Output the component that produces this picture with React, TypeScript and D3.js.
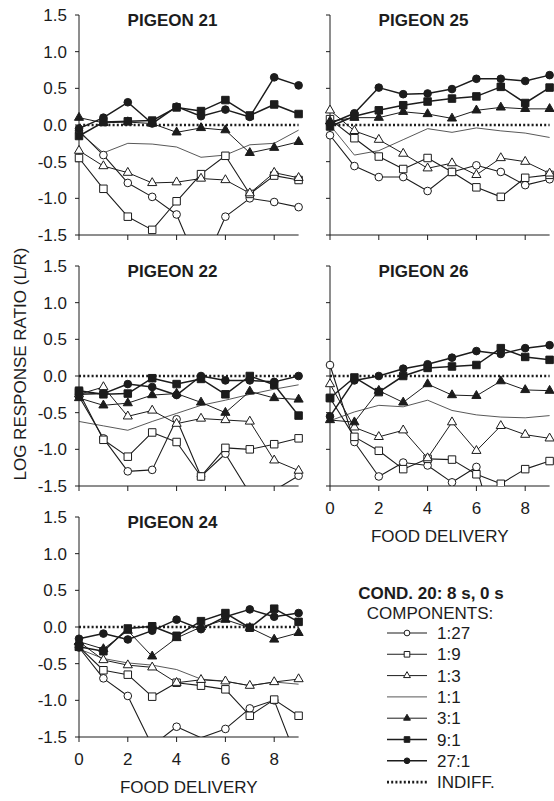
import React from "react";
import * as d3 from "d3";

// Food deliveries (x) and the seven component ratios (series)
const FOOD = [0, 1, 2, 3, 4, 5, 6, 7, 8, 9];
const COMPONENTS = ["1:27", "1:9", "1:3", "1:1", "3:1", "9:1", "27:1"];
const Y_TICKS = [-1.5, -1.0, -0.5, 0.0, 0.5, 1.0, 1.5];
const X_TICKS = [0, 2, 4, 6, 8];

// Pigeon 21 — log response ratio per food delivery
const P21_1_27 = [-0.08, -0.41, -0.79, -0.98, -1.22, -2.0, -1.25, -1.0, -1.05, -1.12];
const P21_1_9 = [-0.45, -0.87, -1.25, -1.43, -1.04, -0.67, -0.42, -0.94, -0.69, -0.75];
const P21_1_3 = [-0.35, -0.56, -0.65, -0.79, -0.78, -0.73, -0.75, -0.93, -0.65, -0.72];
const P21_1_1 = [-0.1, -0.38, -0.25, -0.26, -0.3, -0.44, -0.41, -0.27, -0.25, -0.07];
const P21_3_1 = [0.1, 0.03, 0.04, 0.02, -0.1, -0.04, -0.07, -0.38, -0.31, -0.23];
const P21_9_1 = [-0.15, 0.04, 0.05, 0.06, 0.24, 0.19, 0.34, 0.13, 0.28, 0.15];
const P21_27_1 = [-0.05, 0.1, 0.31, 0.02, 0.25, 0.12, 0.21, 0.11, 0.65, 0.54];

// Pigeon 25
const P25_1_27 = [-0.14, -0.56, -0.71, -0.71, -0.9, -0.64, -0.55, -0.64, -0.82, -0.74];
const P25_1_9 = [0.08, -0.18, -0.43, -0.6, -0.45, -0.64, -0.85, -0.98, -0.72, -0.68];
const P25_1_3 = [0.2, -0.08, -0.2, -0.39, -0.59, -0.52, -0.68, -0.45, -0.5, -0.66];
const P25_1_1 = [0.0, -0.41, -0.35, -0.2, -0.05, -0.1, -0.04, -0.08, -0.11, -0.17];
const P25_3_1 = [0.05, 0.1, 0.1, 0.18, 0.15, 0.09, 0.2, 0.24, 0.22, 0.22];
const P25_9_1 = [-0.02, 0.12, 0.2, 0.27, 0.32, 0.36, 0.39, 0.52, 0.3, 0.51];
const P25_27_1 = [0.02, 0.16, 0.51, 0.42, 0.43, 0.49, 0.63, 0.63, 0.6, 0.68];

// Pigeon 22
const P22_1_27 = [-0.28, -0.85, -1.3, -1.28, -0.59, -1.37, -1.06, -1.6, -1.56, -1.36];
const P22_1_9 = [-0.22, -0.87, -1.1, -0.77, -0.9, -1.37, -0.98, -1.0, -0.93, -0.85];
const P22_1_3 = [-0.25, -0.15, -0.55, -0.47, -0.65, -0.58, -0.6, -0.62, -1.15, -1.29];
const P22_1_1 = [-0.62, -0.68, -0.74, -0.62, -0.51, -0.4, -0.33, -0.25, -0.18, -0.12];
const P22_3_1 = [-0.3, -0.4, -0.37, -0.26, -0.24, -0.36, -0.5, -0.21, -0.3, -0.32];
const P22_9_1 = [-0.2, -0.25, -0.24, -0.03, -0.11, -0.04, -0.25, 0.0, -0.12, -0.54];
const P22_27_1 = [-0.25, -0.24, -0.11, -0.15, -0.26, 0.0, -0.06, -0.06, -0.08, 0.0];

// Pigeon 26
const P26_1_27 = [0.15, -0.9, -1.37, -1.18, -1.22, -1.45, -1.24, -2.4, -2.2, -2.0];
const P26_1_9 = [-0.3, -0.83, -1.02, -1.27, -1.13, -1.14, -1.34, -1.47, -1.27, -1.16];
const P26_1_3 = [-0.11, -0.7, -0.83, -0.74, -1.12, -0.63, -1.02, -0.68, -0.8, -0.85];
const P26_1_1 = [-0.61, -0.49, -0.4, -0.42, -0.33, -0.47, -0.53, -0.56, -0.57, -0.54];
const P26_3_1 = [-0.6, -0.63, -0.2, -0.36, -0.11, -0.26, -0.27, -0.07, -0.19, -0.2];
const P26_9_1 = [-0.3, -0.02, -0.22, 0.0, 0.11, 0.13, 0.15, 0.38, 0.26, 0.22];
const P26_27_1 = [-0.55, -0.06, 0.0, 0.1, 0.16, 0.25, 0.34, 0.3, 0.38, 0.42];

// Pigeon 24
const P24_1_27 = [-0.28, -0.7, -0.94, -1.62, -1.36, -1.51, -1.39, -1.11, -1.0, -1.86];
const P24_1_9 = [-0.27, -0.59, -0.65, -0.95, -0.76, -0.8, -0.85, -1.21, -0.99, -1.21];
const P24_1_3 = [-0.2, -0.45, -0.52, -0.55, -0.76, -0.72, -0.74, -0.8, -0.75, -0.71];
const P24_1_1 = [-0.3, -0.43, -0.49, -0.52, -0.58, -0.71, -0.74, -0.8, -0.75, -0.78];
const P24_3_1 = [-0.2, -0.3, -0.05, -0.4, -0.15, 0.0, 0.1, -0.01, -0.17, -0.08];
const P24_9_1 = [-0.27, -0.33, -0.02, 0.01, -0.12, 0.08, 0.19, -0.01, 0.25, 0.07];
const P24_27_1 = [-0.16, -0.09, -0.17, -0.05, 0.1, -0.03, 0.14, 0.24, 0.14, 0.19];

const W = 554;
const H = 801;
const PLOT_W = 219.6;
const PLOT_H = 220;
const FS = 17;
const FONT = "'Liberation Sans', Arial, Helvetica, sans-serif";
const INK = "#1c1c1c";

type Panel = {
  title: string;
  left: number;
  top: number;
  yLabels: boolean;
  xLabels: boolean;
  series: number[][];
};

const PANELS: Panel[] = [
  { title: "PIGEON 21", left: 79, top: 15, yLabels: true, xLabels: false,
    series: [P21_1_27, P21_1_9, P21_1_3, P21_1_1, P21_3_1, P21_9_1, P21_27_1] },
  { title: "PIGEON 25", left: 330, top: 15, yLabels: false, xLabels: false,
    series: [P25_1_27, P25_1_9, P25_1_3, P25_1_1, P25_3_1, P25_9_1, P25_27_1] },
  { title: "PIGEON 22", left: 79, top: 266, yLabels: true, xLabels: false,
    series: [P22_1_27, P22_1_9, P22_1_3, P22_1_1, P22_3_1, P22_9_1, P22_27_1] },
  { title: "PIGEON 26", left: 330, top: 266, yLabels: false, xLabels: true,
    series: [P26_1_27, P26_1_9, P26_1_3, P26_1_1, P26_3_1, P26_9_1, P26_27_1] },
  { title: "PIGEON 24", left: 79, top: 517, yLabels: true, xLabels: true,
    series: [P24_1_27, P24_1_9, P24_1_3, P24_1_1, P24_3_1, P24_9_1, P24_27_1] },
];

// Visual style of each component series
type Style = { shape: "circle" | "square" | "triangle" | null; filled: boolean; width: number; color: string };
const STYLES: Style[] = [
  { shape: "circle", filled: false, width: 1.1, color: INK },
  { shape: "square", filled: false, width: 1.1, color: INK },
  { shape: "triangle", filled: false, width: 1.0, color: INK },
  { shape: null, filled: false, width: 0.85, color: "#3a3a3a" },
  { shape: "triangle", filled: true, width: 1.0, color: INK },
  { shape: "square", filled: true, width: 1.5, color: INK },
  { shape: "circle", filled: true, width: 1.5, color: INK },
];

function symbolPath(shape: Style["shape"], scale = 1): string {
  if (!shape) return "";
  if (shape === "circle") return d3.symbol(d3.symbolCircle, 46 * scale * scale)() as string;
  if (shape === "square") return d3.symbol(d3.symbolSquare, 56 * scale * scale)() as string;
  return d3.symbol(d3.symbolTriangle, 36 * scale * scale)() as string;
}

const fmtTick = (t: number) => t.toFixed(1);

function PanelView({ p, idx }: { p: Panel; idx: number }) {
  const x = d3.scaleLinear().domain([0, 9]).range([p.left, p.left + PLOT_W]);
  const y = d3.scaleLinear().domain([-1.5, 1.5]).range([p.top + PLOT_H, p.top]);
  const line = d3.line<number>().x((_, i) => x(FOOD[i])).y((d) => y(d));
  const clipId = `clip-${idx}`;
  const bottom = p.top + PLOT_H;
  const order = [3, 0, 1, 2, 4, 5, 6];
  return (
    <g>
      <defs>
        <clipPath id={clipId}>
          <rect x={p.left - 6} y={p.top - 6} width={PLOT_W + 12} height={PLOT_H + 6} />
        </clipPath>
      </defs>
      {/* axes */}
      <line x1={p.left} x2={p.left} y1={y(1.5)} y2={y(-1.5)} stroke={INK} strokeWidth={1} />
      <line x1={x(0)} x2={x(9)} y1={bottom} y2={bottom} stroke={INK} strokeWidth={1} />
      {Y_TICKS.map((t) => (
        <g key={`yt${t}`}>
          <line x1={p.left - 4} x2={p.left} y1={y(t)} y2={y(t)} stroke={INK} strokeWidth={1} />
          {p.yLabels && (
            <text x={p.left - 12} y={y(t) + 6} textAnchor="end" fontSize={FS} fontFamily={FONT} fill={INK}>
              {fmtTick(t)}
            </text>
          )}
        </g>
      ))}
      {X_TICKS.map((t) => (
        <g key={`xt${t}`}>
          <line x1={x(t)} x2={x(t)} y1={bottom} y2={bottom + 5} stroke={INK} strokeWidth={1} />
          {p.xLabels && (
            <text x={x(t)} y={bottom + 28} textAnchor="middle" fontSize={FS} fontFamily={FONT} fill={INK}>
              {t}
            </text>
          )}
        </g>
      ))}
      {p.xLabels && (
        <text x={(x(0) + x(9)) / 2} y={bottom + 56} textAnchor="middle" fontSize={FS} fontFamily={FONT} fill={INK}>
          FOOD DELIVERY
        </text>
      )}
      <text x={p.left + 93.5} y={p.top + 10.5} textAnchor="middle" fontSize={FS} fontWeight="bold" fontFamily={FONT} fill={INK}>
        {p.title}
      </text>
      {/* indifference line */}
      <line x1={x(0)} x2={x(9)} y1={y(0)} y2={y(0)} stroke={INK} strokeWidth={2.6} strokeDasharray="2 2.2" />
      <g clipPath={`url(#${clipId})`}>
        {order.map((si) => (
          <path key={`l${si}`} d={line(p.series[si]) as string} fill="none" stroke={STYLES[si].color} strokeWidth={STYLES[si].width} strokeLinejoin="round" />
        ))}
        {order.map((si) => {
          const st = STYLES[si];
          if (!st.shape) return null;
          const d = symbolPath(st.shape);
          return p.series[si].map((v, i) =>
            v >= -1.5 && v <= 1.5 ? (
              <path key={`m${si}-${i}`} d={d} transform={`translate(${x(FOOD[i])},${y(v)})`}
                fill={st.filled ? INK : "#fff"} stroke={INK} strokeWidth={1} />
            ) : null
          );
        })}
      </g>
    </g>
  );
}

function Legend() {
  const cx = 407;
  const rowY = (i: number) => 633 + i * 21.3;
  return (
    <g fontFamily={FONT} fill={INK}>
      <text x={431} y={599} textAnchor="middle" fontSize={FS} fontWeight="bold">COND. 20: 8 s, 0 s</text>
      <text x={430} y={619} textAnchor="middle" fontSize={FS}>COMPONENTS:</text>
      {COMPONENTS.map((c, i) => {
        const st = STYLES[i];
        const yy = rowY(i);
        return (
          <g key={c}>
            <line x1={cx - 20} x2={cx + 20} y1={yy} y2={yy} stroke={st.color} strokeWidth={st.width} />
            {st.shape && (
              <path d={symbolPath(st.shape, 0.75)} transform={`translate(${cx},${yy})`}
                fill={st.filled ? INK : "#fff"} stroke={INK} strokeWidth={1} />
            )}
            <text x={437} y={yy + 6} fontSize={FS}>{c}</text>
          </g>
        );
      })}
      <line x1={cx - 20} x2={cx + 20} y1={rowY(7)} y2={rowY(7)} stroke={INK} strokeWidth={2.6} strokeDasharray="2 2.2" />
      <text x={437} y={rowY(7) + 6} fontSize={FS}>INDIFF.</text>
    </g>
  );
}

export default function App() {
  return (
    <svg width={W} height={H} viewBox={`0 0 ${W} ${H}`}
      style={{ position: "absolute", left: 0, top: 0, background: "#fff" }}>
      <rect width={W} height={H} fill="#fff" />
      {PANELS.map((p, i) => (
        <PanelView key={p.title} p={p} idx={i} />
      ))}
      <text transform={`translate(26,364) rotate(-90)`} textAnchor="middle" fontSize={FS} fontFamily={FONT} fill={INK}>
        LOG RESPONSE RATIO (L/R)
      </text>
      <Legend />
    </svg>
  );
}
